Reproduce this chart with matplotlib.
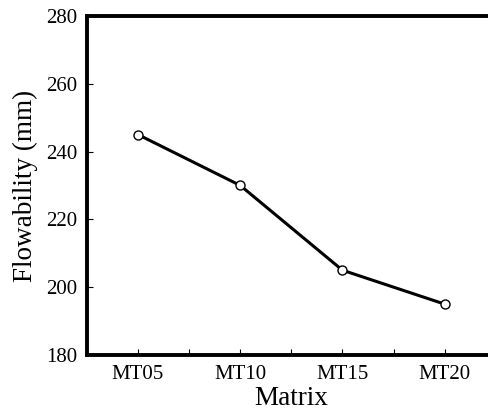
import matplotlib
matplotlib.use("Agg")
import matplotlib.pyplot as plt
from matplotlib.ticker import FixedLocator

categories = ["MT05", "MT10", "MT15", "MT20"]
flowability = [245, 230, 205, 195]
y_ticks = [180, 200, 220, 240, 260, 280]

plt.rcParams['font.family'] = ['Liberation Serif', 'DejaVu Serif']

fig = plt.figure(figsize=(4.88, 4.11), dpi=100)
ax = fig.add_axes([0.178, 0.1363, 0.838, 0.825])

x = list(range(len(categories)))
ax.plot(x, flowability, color='black', lw=2.2, marker='o', ms=6.5,
        mfc='white', mec='black', mew=1.0, zorder=3, clip_on=False)

ax.set_xlim(-0.5, 3.5)
ax.set_ylim(180, 280)
ax.set_xticks(x)
ax.set_xticklabels(categories)
ax.xaxis.set_minor_locator(FixedLocator([0.5, 1.5, 2.5]))
ax.set_yticks(y_ticks)

for s in ['left', 'bottom', 'top']:
    ax.spines[s].set_linewidth(2.8)
ax.spines['right'].set_visible(False)

ax.tick_params(axis='both', which='both', direction='in', length=4, width=0.8,
               labelsize=15, pad=7)
ax.set_xlabel("Matrix", fontsize=19.5, labelpad=2)
ax.set_ylabel("Flowability (mm)", fontsize=19.5, labelpad=6)

fig.savefig("out.png", dpi=100)
